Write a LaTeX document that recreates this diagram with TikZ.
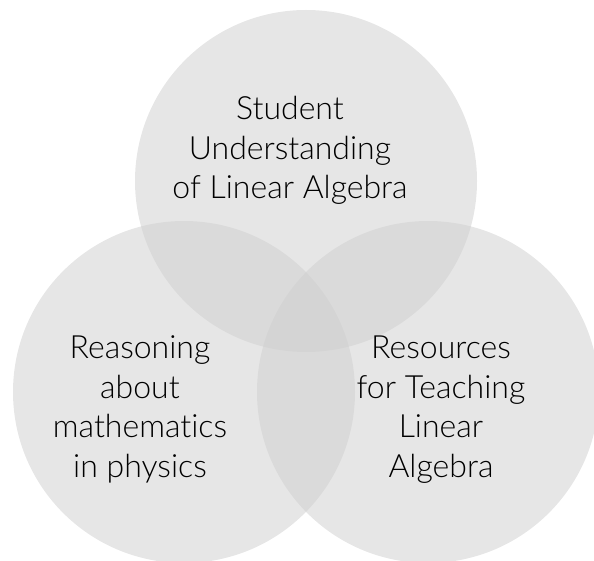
\documentclass[tikz,border=0pt]{standalone}
\usepackage{fontspec}
\setmainfont{Lato Light}[Ligatures=NoCommon]

\definecolor{setgray}{RGB}{207,207,207}
\tikzset{
	set/.style={circle,fill=setgray,fill opacity=0.52,minimum size=342pt,inner sep=0pt},
	settext/.style={align=center,anchor=base,font=\fontsize{32}{39.5}\selectfont},
}

\begin{document}
\begin{tikzpicture}[x=1pt,y=-1pt]
			\useasboundingbox (0,0) rectangle (594,561);
			% the three sets
			\node[set] (student) at (306,181) {};
			\node[set] (physics) at (184,392) {};
			\node[set] (resources) at (428,392) {};
			% their names, placed at the baseline of the last line
			\node[settext] (studentname) at (290,199) {Student\\Understanding\\of Linear Algebra};
			\node[settext] (physicsname) at (140,477) {Reasoning\\about\\mathematics\\in physics};
			\node[settext] (resourcesname) at (441,477) {Resources\\for Teaching\\Linear\\Algebra};
			
		\end{tikzpicture}
\end{document}
